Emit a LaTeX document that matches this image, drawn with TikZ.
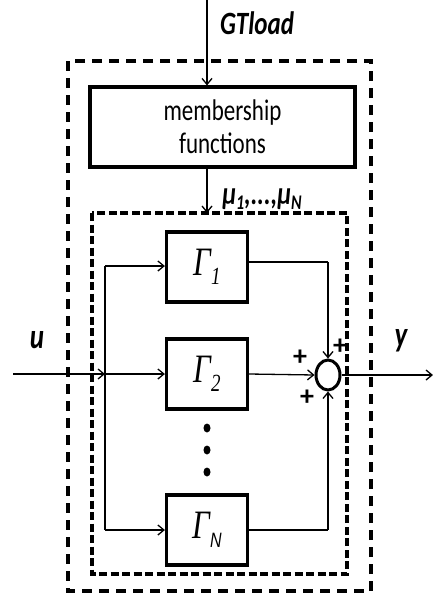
\documentclass[tikz,border=0pt]{standalone}
\usepackage{fontspec}
\usepackage{graphicx}
\setmainfont{Carlito}
\newfontfamily\grserif{Liberation Serif}
\newfontfamily\subsans{Liberation Sans}
\newcommand{\vstr}[1]{\scalebox{1}[1.3]{#1}}
\usetikzlibrary{shapes.geometric,arrows.meta}
\tikzset{
  conn/.style={line width=1.3pt},
  arr/.style={conn,-{Straight Barb[length=6pt,width=10pt,line width=1.3pt]}},
  gbox/.style={draw,line width=3.2pt,minimum width=81pt,minimum height=70pt,inner sep=0pt,font=\grserif\itshape\fontsize{31}{31}\selectfont},
  mfbox/.style={draw,line width=3.2pt,minimum width=265pt,minimum height=80pt,align=center,font=\fontsize{23}{33}\selectfont},
  outerbox/.style={line width=3.2pt,dash pattern=on 10pt off 7pt},
  innerbox/.style={line width=3.2pt,dash pattern=on 8pt off 3.5pt},
  sumnode/.style={draw,ellipse,line width=3pt,minimum width=24pt,minimum height=30pt,inner sep=0pt},
  lab/.style={font=\bfseries\itshape\fontsize{24}{24}\selectfont,inner sep=0pt},
  plus/.style={font=\bfseries\fontsize{28}{28}\selectfont,inner sep=0pt},
  dotn/.style={fill,ellipse,minimum width=7pt,minimum height=9pt,inner sep=0pt}
}
\begin{document}
\begin{tikzpicture}[x=1pt,y=-1pt]
\useasboundingbox (0,0) rectangle (433,595);
% dashed boxes
\draw[outerbox] (68,61) rectangle (371,591);
\draw[innerbox] (92,213) rectangle (347,574);
% blocks
\node[mfbox] (mf) at (222.5,127) {\vstr{membership}\\\vstr{functions}};
\node[gbox] (g1) at (207,267) {\vstr{Γ\raisebox{-7pt}{\fontsize{19}{19}\selectfont 1}}};
\node[gbox] (g2) at (207,374) {\vstr{Γ\raisebox{-7pt}{\fontsize{19}{19}\selectfont 2}}};
\node[gbox] (gn) at (207,530) {\vstr{Γ\raisebox{-7pt}{\subsans\itshape\fontsize{16}{16}\selectfont N}}};
\node[sumnode] (s) at (328,375) {};
\node[dotn] (d1) at (207,428) {};
\node[dotn] (d2) at (207,450) {};
\node[dotn] (d3) at (207,472) {};
% coordinates
\coordinate (gtop) at (207,0);
\coordinate (inTop) at (207,213);
\coordinate (uin) at (13,374);
\coordinate (split) at (105,374);
\coordinate (s1) at (105,266);
\coordinate (sn) at (105,530);
\coordinate (yout) at (433,375);
\coordinate (c1) at (328,262);
\coordinate (cn) at (328,530);
% connectors
\draw[arr] (gtop) -- (gtop |- mf.north);
\draw[arr] (inTop |- mf.south) -- (inTop);
\draw[arr] (uin) -- (split);
\draw[conn] (s1) -- (sn);
\draw[arr] (s1) -- (s1 -| g1.west);
\draw[arr] (split) -- (g2.west);
\draw[arr] (sn) -- (gn.west);
\draw[arr] (g2.east) -- (s.west);
\draw[conn] (c1 -| g1.east) -- (c1);
\draw[arr] (c1) -- (s.north);
\draw[conn] (gn.east) -- (cn);
\draw[arr] (cn) -- (s.south);
\draw[arr] (s.east) -- (yout);
% labels
\node[lab,font=\bfseries\itshape\fontsize{25}{25}\selectfont] (gtl) at (257,23) {\vstr{GTload}};
\node[lab,font=\bfseries\itshape\fontsize{25}{25}\selectfont] (mul) at (262,199) {\vstr{μ\raisebox{-4pt}{\fontsize{16}{16}\selectfont 1},...,μ\raisebox{-4pt}{\fontsize{16}{16}\selectfont N}}};
\node[lab,font=\bfseries\itshape\fontsize{27}{27}\selectfont] (ul) at (37,340) {\vstr{u}};
\node[lab,font=\bfseries\itshape\fontsize{27}{27}\selectfont] (yl) at (401,341) {\vstr{y}};
\node[plus] (p1) at (300,358) {+};
\node[plus] (p2) at (340,347) {+};
\node[plus] (p3) at (307,398) {+};
\end{tikzpicture}
\end{document}
